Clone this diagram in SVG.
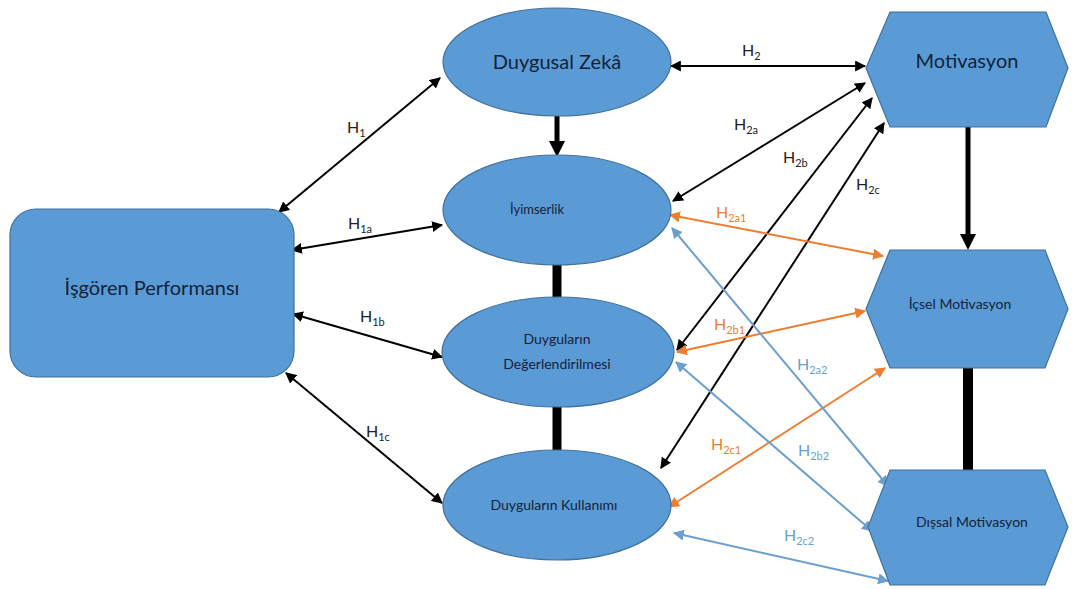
<svg xmlns="http://www.w3.org/2000/svg" width="1072" height="589" viewBox="0 0 1072 589">
<defs>
<style>
.node{fill:#5B9BD5;stroke:#41719C;stroke-width:1.2}
.t{font-family:Lato,"Open Sans",sans-serif;fill:#14223a;text-anchor:middle;dominant-baseline:central}
.lbl{font-family:Lato,"Open Sans",sans-serif;font-size:16px;fill:#222}
.lbl tspan.s{font-size:11px}
.k{stroke:#000;stroke-width:2;fill:none;marker-start:url(#ak);marker-end:url(#ak)}
.o{stroke:#ED7D31;stroke-width:2;fill:none;marker-start:url(#ao);marker-end:url(#ao)}
.b{stroke:#6A9FD0;stroke-width:2;fill:none;marker-start:url(#ab);marker-end:url(#ab)}
.thick{stroke:#000;fill:none}
</style>
<marker id="ak" viewBox="0 0 10 10" refX="9" refY="5" markerWidth="5.5" markerHeight="5.5" orient="auto-start-reverse"><path d="M0,0L10,5L0,10z" fill="#000"/></marker>
<marker id="ao" viewBox="0 0 10 10" refX="9" refY="5" markerWidth="5.5" markerHeight="5.5" orient="auto-start-reverse"><path d="M0,0L10,5L0,10z" fill="#ED7D31"/></marker>
<marker id="ab" viewBox="0 0 10 10" refX="9" refY="5" markerWidth="5.5" markerHeight="5.5" orient="auto-start-reverse"><path d="M0,0L10,5L0,10z" fill="#6A9FD0"/></marker>
</defs>
<rect width="1072" height="589" fill="#fff"/>

<g id="connectors">
<line class="k" x1="279" y1="212" x2="440" y2="78"/>
<line class="k" x1="292" y1="250" x2="442" y2="225"/>
<line class="k" x1="293" y1="314" x2="442" y2="357"/>
<line class="k" x1="286" y1="373" x2="442" y2="503"/>
<line class="k" x1="671" y1="66" x2="865" y2="66"/>
<line class="k" x1="673" y1="201" x2="865" y2="83"/>
<line class="k" x1="677" y1="350" x2="872" y2="98"/>
<line class="k" x1="661" y1="468" x2="884" y2="123"/>
<line class="o" x1="670" y1="215" x2="883" y2="256"/>
<line class="o" x1="677" y1="352" x2="865" y2="311"/>
<line class="o" x1="669" y1="507" x2="885" y2="368"/>
<line class="b" x1="672" y1="228" x2="888" y2="486"/>
<line class="b" x1="676" y1="362" x2="872" y2="531"/>
<line class="b" x1="674" y1="533" x2="888" y2="581"/>
<line class="thick" x1="557" y1="116" x2="557" y2="142" stroke-width="5"/>
<path d="M549,141L565,141L557,157z" fill="#000"/>
<line class="thick" x1="557" y1="264" x2="557" y2="298" stroke-width="9"/>
<line class="thick" x1="557" y1="406" x2="557" y2="451" stroke-width="9"/>
<line class="thick" x1="968" y1="127" x2="968" y2="235" stroke-width="5"/>
<path d="M960,234L976,234L968,250z" fill="#000"/>
<line class="thick" x1="968" y1="367" x2="968" y2="471" stroke-width="10"/>
</g>

<g id="labels">
<text class="lbl" x="347" y="133">H<tspan class="s" dy="4">1</tspan></text>
<text class="lbl" x="348" y="229">H<tspan class="s" dy="4">1a</tspan></text>
<text class="lbl" x="360" y="322">H<tspan class="s" dy="4">1b</tspan></text>
<text class="lbl" x="366" y="437">H<tspan class="s" dy="4">1c</tspan></text>
<text class="lbl" x="742" y="56">H<tspan class="s" dy="4">2</tspan></text>
<text class="lbl" x="734" y="130">H<tspan class="s" dy="4">2a</tspan></text>
<text class="lbl" x="783" y="163">H<tspan class="s" dy="4">2b</tspan></text>
<text class="lbl" x="856" y="190">H<tspan class="s" dy="4">2c</tspan></text>
<text class="lbl" x="716" y="218" style="fill:#ED7D31">H<tspan class="s" dy="4">2a1</tspan></text>
<text class="lbl" x="714" y="330" style="fill:#ED7D31">H<tspan class="s" dy="4">2b1</tspan></text>
<text class="lbl" x="711" y="450" style="fill:#ED7D31">H<tspan class="s" dy="4">2c1</tspan></text>
<text class="lbl" x="797" y="370" style="fill:#6A9FD0">H<tspan class="s" dy="4">2a2</tspan></text>
<text class="lbl" x="798" y="456" style="fill:#6A9FD0">H<tspan class="s" dy="4">2b2</tspan></text>
<text class="lbl" x="784" y="541" style="fill:#6A9FD0">H<tspan class="s" dy="4">2c2</tspan></text>
</g>

<g id="isgoren">
<rect class="node" x="10" y="209" width="284" height="168" rx="26"/>
<text class="t" x="152" y="287" font-size="20">İşgören Performansı</text>
</g>
<g id="duygusal-zeka">
<ellipse class="node" cx="557" cy="62" rx="114" ry="54"/>
<text class="t" x="557" y="61" font-size="20">Duygusal Zekâ</text>
</g>
<g id="iyimserlik">
<ellipse class="node" cx="557" cy="210" rx="114" ry="55"/>
<text class="t" x="537" y="209" font-size="13">İyimserlik</text>
</g>
<g id="degerlendirilmesi">
<ellipse class="node" cx="558" cy="352" rx="116" ry="55"/>
<text class="t" x="557" y="338" font-size="14">Duyguların</text>
<text class="t" x="557" y="363" font-size="14">Değerlendirilmesi</text>
</g>
<g id="kullanimi">
<ellipse class="node" cx="557" cy="505" rx="114" ry="55"/>
<text class="t" x="554" y="504" font-size="14">Duyguların Kullanımı</text>
</g>
<g id="motivasyon">
<polygon class="node" points="866,68 890,12 1046,12 1068,68 1046,127 890,127"/>
<text class="t" x="967" y="60" font-size="20">Motivasyon</text>
</g>
<g id="icsel">
<polygon class="node" points="866,309 890,250 1045,250 1068,309 1045,368 890,368"/>
<text class="t" x="960" y="303" font-size="14">İçsel Motivasyon</text>
</g>
<g id="dissal">
<polygon class="node" points="868,527 890,470 1045,470 1068,527 1045,585 890,585"/>
<text class="t" x="972" y="521" font-size="14">Dışsal Motivasyon</text>
</g>
</svg>
